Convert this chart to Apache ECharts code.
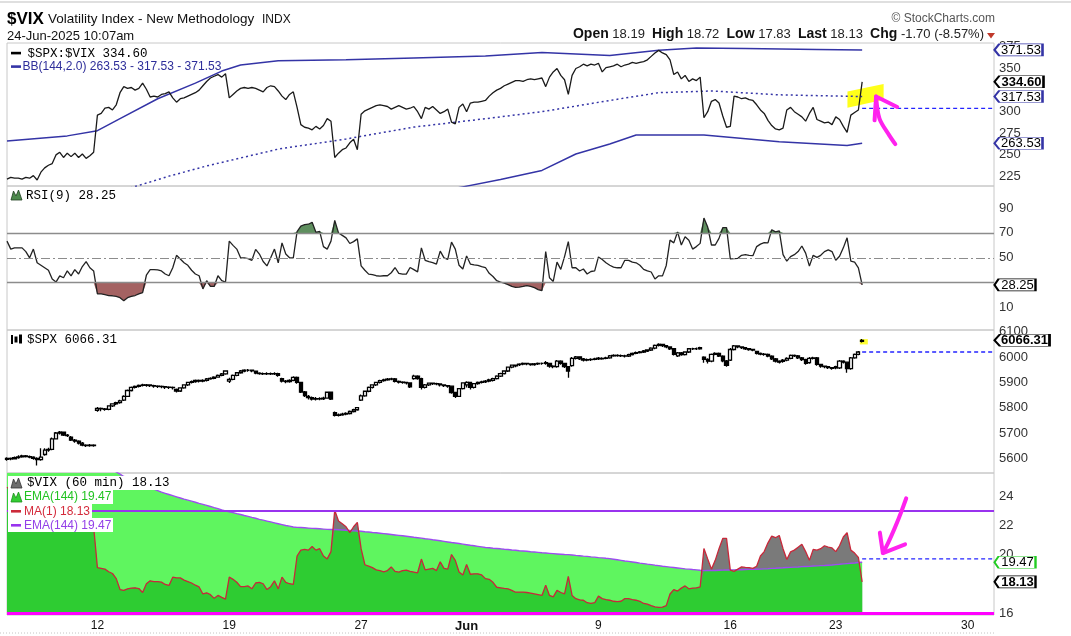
<!DOCTYPE html>
<html>
<head>
<meta charset="utf-8">
<script src="https://cdn.jsdelivr.net/npm/echarts@6.0.0/dist/echarts.min.js"></script>
<style>
html,body{margin:0;padding:0;background:#fff;}
#chart{width:1071px;height:636px;}
</style>
</head>
<body>
<div id="chart"></div>
<script>
// ===================== DATA =====================
const tradingDays = ['2025-05-06','2025-05-07','2025-05-08','2025-05-09','2025-05-12','2025-05-13','2025-05-14','2025-05-15','2025-05-16','2025-05-19','2025-05-20','2025-05-21','2025-05-22','2025-05-23','2025-05-27','2025-05-28','2025-05-29','2025-05-30','2025-06-02','2025-06-03','2025-06-04','2025-06-05','2025-06-06','2025-06-09','2025-06-10','2025-06-11','2025-06-12','2025-06-13','2025-06-16','2025-06-17','2025-06-18','2025-06-20','2025-06-23','2025-06-24','2025-06-25','2025-06-26','2025-06-27','2025-06-30','2025-07-01'];
const sessionHours = ['09:30','10:30','11:30','12:30','13:30','14:30','15:30'];
const firstDayHours = ['13:30','14:30','15:30'];
const lastDayHours = ['09:30'];
const weekLabels = {'2025-05-12':'12','2025-05-19':'19','2025-05-27':'27','2025-06-02':'Jun','2025-06-09':'9','2025-06-16':'16','2025-06-23':'23','2025-06-30':'30'};

// $SPX:$VIX ratio, hourly
const ratio = [
222,224,223,
223,222,224,223,226,221,230,
235,238,240,250,253,247,252,
248,252,247,251,246,249,253,
296,298,304,305,302,308,322,
329,327,328,325,327,333,326,
317,318,317,320,321,323,316,
311,315,316,318,320,322,325,
330,335,339,341,343,340,344,
316,320,324,327,328,327,328,
327,325,323,328,330,329,324,
318,314,320,323,305,285,282,
281,279,283,280,284,292,289,
247,252,256,258,264,268,256,
297,301,303,305,307,308,307,
306,303,305,307,305,303,304,
306,300,292,305,303,306,302,
298,300,303,288,286,305,309,
300,310,311,311,312,313,318,
322,325,327,330,332,334,336,
336,335,337,338,337,338,339,
329,340,346,350,342,337,320,
342,350,352,355,353,355,354,
356,346,351,352,353,355,352,
354,355,357,356,357,358,360,
364,368,371,368,366,360,343,
346,338,342,335,338,336,340,
293,300,312,314,310,295,282,
283,318,317,315,316,314,313,
308,302,298,290,284,280,279,
281,302,305,300,297,294,289,
298,305,291,289,287,288,285,
294,291,283,276,296,299,302,
334.6];

// Bollinger Bands (144,2.0) read at points [barIndex, value]
const bbUpper = [[0,266],[16,272],[24,278],[30,292],[40,315],[50,333],[57,347],[62,354],[72,359],[90,360],[108,362],[127,364.5],[142,368.5],[160,365],[173,371],[183,373.8],[196,373],[215,372],[227,371.53]];
const bbMiddle = [[20,195],[33,212],[43,225.4],[53,237.2],[72,256.7],[90,268.4],[108,282.2],[127,291.9],[142,300],[160,313],[173,322],[187,324],[205,319.5],[227,317.53]];
const bbLower = [[90,176],[108,202],[121,213],[131,221.5],[142,232],[151,251],[160,262.6],[167,273],[185,273],[205,265.3],[223,261],[227,263.53]];

// RSI(9) of $VIX
const rsi = [
63.4,57,58,
58,58,55,50,57,46,44,
42,40,33,30.5,35.5,34,39.5,
35.5,40.5,37,43,47,42,39.5,
21,21,20.5,19.7,19.5,19.1,18,
15.5,18,19,19.7,21,22,36,
40.5,40.5,40.3,39.5,37,35.6,42,
52,49,46,44,40,37,35.6,
25,31.6,27,27,35.6,31.6,30.5,
63.4,60,57,50.1,50,49.3,48,
56.8,53,47,43.5,50,57,46,
62,53,50,50,71,75.5,76.6,
77,78.5,70.5,71.3,59,57,63.4,
80,70,68,66,61.5,63,65.2,
43.5,40,36.9,36.5,35.6,35.3,35.6,
35.6,38,42.2,37.5,36.9,36.9,42.2,
40.5,38.7,58,48,47,46.2,45,
55.4,50,48.8,62.6,57,44,41,
51.5,45,44.3,44,43,42.2,37.5,
35,31.6,30.5,29.7,28.5,27,26.3,
26.5,27,27.6,27,26,24.5,23.6,
55,34,31,46.5,40.7,51,63,
42,42,39.4,41,37,39,39.5,
50.7,48.6,46,44,42.5,42,42,
48,48,46.5,46,44,40.7,39.5,
38.6,33,35.5,35.5,43.9,64.2,62,
70.8,60.3,66.9,64.2,57,59,61.6,
82,74.7,60.3,60.3,65.6,74.2,74.2,
49.1,49.3,49.6,52,52.5,52,51.7,
59,61,62.2,62,72.6,70.8,71.6,
52.5,47.3,51,52.5,55,59.5,53.8,
43.3,52,50.4,52,55,56.4,55,
48,51.2,58,66.1,47.3,46.5,42,
28.25];
const rsiLevels = {upper: 70, middle: 50, lower: 30};

// $SPX hourly candles [open, close, low, high]
const spxOHLC = [
[5596,5600,5590,5604],[5600,5598,5592,5603],[5598,5603,5595,5607],
[5603,5606,5598,5612],[5606,5610,5602,5614],[5610,5607,5603,5613],[5607,5605,5600,5611],[5605,5600,5594,5608],[5600,5595,5572,5604],[5595,5605,5590,5640],
[5615,5632,5610,5640],[5632,5635,5626,5642],[5635,5677,5632,5682],[5677,5700,5674,5704],[5700,5703,5694,5708],[5703,5692,5688,5706],[5692,5690,5684,5696],
[5684,5672,5668,5688],[5672,5668,5662,5676],[5668,5660,5655,5671],[5660,5652,5648,5664],[5652,5650,5645,5656],[5650,5652,5646,5657],[5652,5650,5646,5656],
[5790,5797,5784,5803],[5797,5795,5786,5801],[5795,5793,5788,5799],[5793,5807,5790,5810],[5807,5815,5803,5818],[5815,5820,5811,5824],[5820,5827,5816,5831],
[5830,5845,5826,5849],[5845,5868,5842,5872],[5868,5880,5864,5884],[5880,5884,5876,5888],[5884,5888,5880,5892],[5888,5890,5884,5895],[5890,5888,5883,5894],
[5890,5887,5882,5893],[5887,5885,5879,5891],[5885,5884,5878,5889],[5884,5883,5877,5888],[5883,5881,5874,5886],[5881,5880,5874,5885],[5880,5879,5872,5884],
[5872,5866,5860,5876],[5866,5878,5862,5881],[5878,5890,5875,5893],[5890,5900,5886,5903],[5900,5903,5896,5907],[5903,5908,5899,5911],[5908,5905,5900,5911],
[5905,5908,5901,5912],[5908,5914,5904,5917],[5914,5916,5910,5920],[5916,5921,5912,5924],[5921,5928,5918,5931],[5928,5934,5924,5937],[5934,5945,5930,5948],
[5905,5912,5898,5918],[5912,5928,5908,5931],[5928,5938,5924,5941],[5938,5945,5934,5949],[5945,5948,5940,5952],[5948,5948,5942,5953],[5948,5946,5940,5951],
[5944,5937,5932,5946],[5937,5935,5930,5940],[5935,5934,5929,5939],[5934,5935,5929,5940],[5935,5934,5929,5939],[5934,5935,5929,5940],[5935,5928,5922,5938],
[5915,5905,5900,5918],[5905,5903,5897,5909],[5903,5908,5899,5912],[5908,5920,5905,5924],[5920,5900,5895,5923],[5900,5862,5858,5903],[5862,5848,5842,5866],
[5845,5840,5832,5850],[5840,5834,5828,5844],[5834,5836,5828,5842],[5836,5835,5829,5841],[5835,5838,5830,5843],[5838,5861,5835,5864],[5861,5834,5830,5863],
[5780,5770,5765,5785],[5770,5772,5765,5777],[5772,5775,5768,5780],[5775,5777,5770,5782],[5777,5785,5773,5789],[5785,5792,5781,5796],[5792,5800,5788,5803],
[5830,5847,5826,5852],[5847,5865,5843,5868],[5865,5880,5861,5884],[5880,5890,5876,5893],[5890,5900,5886,5903],[5900,5907,5896,5910],[5907,5910,5903,5914],
[5910,5913,5906,5917],[5913,5914,5908,5918],[5914,5904,5900,5917],[5904,5901,5896,5907],[5901,5900,5895,5905],[5900,5898,5892,5903],[5898,5882,5878,5900],
[5915,5925,5910,5930],[5925,5915,5910,5928],[5915,5880,5872,5918],[5880,5890,5876,5894],[5890,5897,5886,5900],[5897,5895,5890,5900],[5895,5894,5889,5899],
[5894,5890,5884,5897],[5890,5887,5882,5893],[5887,5885,5879,5890],[5885,5860,5855,5888],[5860,5845,5838,5863],[5845,5875,5842,5878],[5875,5898,5872,5901],
[5890,5900,5880,5905],[5900,5880,5872,5903],[5880,5895,5876,5898],[5895,5900,5891,5904],[5900,5902,5896,5906],[5902,5905,5898,5909],[5905,5910,5901,5914],
[5908,5915,5904,5918],[5915,5925,5911,5928],[5925,5935,5921,5938],[5935,5945,5931,5948],[5945,5960,5941,5963],[5960,5968,5956,5971],[5968,5965,5960,5971],
[5970,5972,5965,5976],[5972,5975,5968,5979],[5975,5973,5968,5978],[5973,5970,5966,5976],[5970,5973,5966,5977],[5973,5975,5969,5979],[5975,5975,5970,5979],
[5978,5975,5970,5985],[5975,5964,5958,5978],[5964,5962,5956,5968],[5962,5984,5958,5988],[5984,5975,5970,5987],[5975,5962,5957,5978],[5962,5945,5918,5965],
[5966,5995,5962,6000],[5995,6001,5990,6004],[6001,5993,5988,6003],[5993,5988,5983,5996],[5988,5990,5984,5994],[5990,5991,5985,5995],[5991,5993,5987,5997],
[5996,5993,5988,6000],[5993,5995,5989,5999],[5995,5997,5991,6001],[5997,6005,5993,6008],[6005,6007,6001,6011],[6007,6006,6001,6011],[6006,6005,6000,6010],
[6005,6004,5998,6009],[6004,6010,6000,6013],[6010,6015,6006,6018],[6015,6018,6011,6022],[6018,6020,6014,6024],[6020,6024,6016,6028],[6024,6028,6020,6031],
[6028,6035,6024,6039],[6035,6046,6031,6050],[6046,6050,6042,6055],[6050,6045,6040,6053],[6045,6040,6035,6048],[6040,6033,6028,6043],[6033,6011,6006,6036],
[6005,6017,6000,6020],[6017,6010,6005,6020],[6010,6020,6006,6023],[6020,6033,6016,6036],[6033,6033,6028,6037],[6033,6033,6028,6038],[6033,6037,6029,6041],
[6000,5991,5978,6003],[5991,5984,5975,5995],[5984,6011,5980,6014],[6011,6015,6007,6019],[6015,6004,6000,6018],[6004,5985,5980,6007],[5985,5967,5962,5988],
[5988,6030,5985,6036],[6030,6044,6026,6048],[6044,6040,6035,6047],[6040,6037,6032,6043],[6037,6033,6028,6040],[6033,6030,6025,6036],[6030,6028,6023,6033],
[6022,6015,6010,6025],[6015,6012,6007,6018],[6012,6011,6005,6016],[6011,6004,5999,6014],[6004,5993,5988,6007],[5993,5984,5979,5996],[5984,5980,5975,5987],
[5983,5988,5978,5992],[5988,5995,5984,5999],[5995,6007,5991,6010],[6007,6005,6000,6010],[6005,5997,5992,6008],[5997,5990,5985,6000],[5990,5975,5970,5993],
[5978,5995,5974,6000],[5995,5997,5990,6001],[5997,5971,5966,6000],[5971,5964,5958,5974],[5964,5962,5956,5967],[5962,5958,5953,5965],[5958,5955,5950,5961],
[5962,5957,5952,5966],[5957,5984,5953,5988],[5984,5980,5975,5987],[5980,5954,5938,5983],[5954,5997,5950,6000],[5997,6011,5993,6014],[6011,6020,6007,6024],
[6062,6066,6058,6071]];

// $VIX hourly close (MA(1))
const vix = [
24.6,24.4,24.8,
24.5,24.2,24.0,24.3,24.0,24.6,23.9,
23.3,23.1,22.6,22.3,22.4,22.6,22.3,
22.7,22.5,22.6,22.3,22.1,22.3,21.9,
19.1,19.05,19.0,18.82,18.7,18.35,17.6,
17.55,17.65,17.7,17.72,17.67,17.4,18.0,
18.2,18.15,18.15,18.11,17.95,17.88,18.45,
18.4,18.4,18.25,18.15,18.05,17.9,17.78,
17.3,17.38,17.25,17.0,17.2,17.07,16.95,
18.45,18.3,18.1,17.8,17.8,17.85,17.65,
18.05,18.1,18.0,17.6,17.8,18.2,17.65,
18.45,18.1,18.0,17.95,19.9,20.3,20.35,
20.3,20.55,20.3,20.4,19.9,19.7,20.2,
23.04,22.3,22.1,21.9,21.5,21.9,22.2,
20.4,19.3,19.2,19.1,18.95,18.9,18.82,
18.9,19.15,18.85,18.8,18.9,18.93,18.85,
18.8,18.75,19.69,18.95,19.0,19.05,18.9,
19.5,19.05,19.0,20.0,19.6,18.8,18.6,
19.32,18.65,18.68,18.68,18.6,18.35,18.3,
18.1,17.76,17.72,17.68,17.65,17.55,17.42,
17.42,17.42,17.4,17.35,17.3,17.25,17.2,
17.9,17.2,17.1,17.55,17.4,17.3,18.5,
17.2,16.98,16.9,16.87,16.7,16.66,16.7,
17.15,16.98,16.92,16.87,16.8,16.77,16.8,
16.98,16.98,16.92,16.87,16.8,16.65,16.6,
16.5,16.41,16.38,16.4,16.5,17.3,17.6,
17.5,17.7,17.85,17.65,17.7,17.72,17.78,
20.41,19.7,19.0,19.6,20.4,21.1,21.1,
18.93,18.85,19.0,19.15,19.12,19.1,19.05,
19.2,19.9,20.2,20.8,21.26,21.15,21.3,
20.4,19.66,20.18,20.3,20.5,20.7,20.2,
19.6,20.35,20.3,20.4,20.6,20.5,20.45,
20.2,20.6,21.2,21.5,20.3,20.1,19.8,
18.13];

// EMA(144) of $VIX
const ema144 = [
27.2,27.16,27.13,
27.1,27.06,27.03,27.0,26.96,26.93,26.9,
26.86,26.83,26.79,26.76,26.72,26.69,26.65,
26.61,26.58,26.54,26.5,26.46,26.43,26.39,
26.3,26.2,26.1,25.95,25.8,25.65,25.5,
25.34,25.23,25.12,25.01,24.9,24.79,24.68,
24.58,24.48,24.38,24.27,24.19,24.11,24.03,
23.95,23.87,23.79,23.72,23.65,23.58,23.5,
23.43,23.36,23.29,23.21,23.14,23.06,22.99,
22.93,22.87,22.8,22.74,22.67,22.61,22.54,
22.48,22.41,22.35,22.29,22.23,22.17,22.11,
22.05,21.99,21.94,21.88,21.86,21.85,21.83,
21.81,21.79,21.78,21.76,21.74,21.72,21.71,
21.71,21.7,21.68,21.66,21.64,21.62,21.61,
21.59,21.56,21.54,21.51,21.49,21.46,21.43,
21.4,21.37,21.34,21.31,21.28,21.25,21.22,
21.18,21.15,21.12,21.08,21.05,21.01,20.98,
20.94,20.9,20.86,20.82,20.79,20.75,20.71,
20.67,20.63,20.6,20.56,20.52,20.48,20.46,
20.43,20.41,20.39,20.36,20.34,20.31,20.29,
20.26,20.24,20.22,20.19,20.17,20.15,20.12,
20.1,20.08,20.06,20.04,20.02,20.0,19.99,
19.97,19.94,19.92,19.89,19.87,19.84,19.82,
19.79,19.77,19.74,19.72,19.68,19.64,19.6,
19.56,19.53,19.49,19.45,19.41,19.38,19.34,
19.31,19.27,19.24,19.2,19.17,19.14,19.11,
19.08,19.05,19.02,19.0,18.97,18.95,18.92,
18.9,18.91,18.91,18.91,18.92,18.93,18.94,
18.94,18.95,18.96,18.96,18.97,18.98,18.98,
18.99,19.0,19.02,19.03,19.05,19.06,19.08,
19.09,19.11,19.12,19.14,19.15,19.17,19.18,
19.19,19.21,19.22,19.24,19.25,19.27,19.28,
19.31,19.33,19.36,19.38,19.4,19.42,19.45,
19.47];

// user-drawn horizontal levels on the VIX panel, previous closes
const vixLevels = {purple: 23, magenta: 16};
const prevClose = {ratio: 303.8, spx: 6020, vix: 19.7};

// annotations (bar index, value)
const ratioHighlight = [[223.1,323.5],[232.7,332.1],[232.7,313.7],[223.1,304.6]];
const spxHighlight = [[226.4,6071],[228.5,6071],[228.5,6050],[226.4,6050]];
const arrow1Shaft = [[230.7,317.5],[231.6,292],[234.2,272.6],[235.8,262.4]];
const arrow1Head = [[236.3,305.5],[230.7,317.5],[230.3,290]];
const arrow2Shaft = [[238.7,23.85],[237.5,23.0],[235.7,21.84],[233.9,20.8],[232.5,20.1]];
const arrow2Head = [[231.7,21.5],[232.5,20.1],[238.4,20.7]];

// ===================== BUILD =====================
const FONT = '"Liberation Sans", Arial, sans-serif';
const MONO = '"Liberation Mono", "DejaVu Sans Mono", monospace';

const categories = [];
tradingDays.forEach((d, k) => {
  const hrs = k === 0 ? firstDayHours : (k === tradingDays.length - 1 ? lastDayHours : sessionHours);
  hrs.forEach(h => categories.push(d + ' ' + h));
});
const lastIdx = ratio.length - 1;
const endIdx = categories.length - 1;

const rsiHiBase = rsi.map(() => rsiLevels.upper);
const rsiHiFill = rsi.map(v => Math.max(v - rsiLevels.upper, 0));
const rsiLoBase = rsi.map(v => Math.min(v, rsiLevels.lower));
const rsiLoFill = rsi.map(v => rsiLevels.lower - Math.min(v, rsiLevels.lower));
const vixFloor = vix.map((v, i) => Math.min(v, ema144[i]));

const GL = 7, GR = 77;
const grid = [
  {top: 43, height: 143},
  {top: 186, height: 144},
  {top: 330, height: 143},
  {top: 473, height: 142}
].map(g => Object.assign({left: GL, right: GR, show: true, borderColor: '#c8c8c8', borderWidth: 1, containLabel: false}, g));

const xAxis = [0, 1, 2, 3].map(i => ({
  type: 'category', gridIndex: i, data: categories, boundaryGap: false,
  axisLine: {show: false}, axisTick: {show: false}, splitLine: {show: false},
  axisLabel: i === 3 ? {
    show: true,
    interval: (index, value) => value.slice(11) === '09:30' && weekLabels.hasOwnProperty(value.slice(0, 10)),
    formatter: value => { const t = weekLabels[value.slice(0, 10)] || ''; return t === 'Jun' ? '{b|Jun}' : t; },
    fontSize: 12, color: '#111', fontFamily: FONT, margin: 5,
    rich: {b: {fontWeight: 'bold', fontSize: 13, fontFamily: FONT, color: '#111'}}
  } : {show: false}
}));
[0, 2, 3].forEach(gi => xAxis.push({type: 'value', gridIndex: gi, min: 0, max: endIdx, show: false}));
// xAxis 4 -> grid0, 5 -> grid2, 6 -> grid3

function mkY(gi, min, max, ticks) {
  return {
    type: 'value', gridIndex: gi, position: 'right', min, max,
    axisLine: {show: false}, axisTick: {show: false}, splitLine: {show: false},
    axisLabel: {customValues: ticks, formatter: v => String(v), fontSize: 13, color: '#333', fontFamily: FONT, margin: 5}
  };
}
const yAxis = [
  mkY(0, 214, 379.5, [225, 250, 275, 300, 350, 375]),
  mkY(1, -8, 107.7, [10, 50, 70, 90]),
  mkY(2, 5542, 6107, [5600, 5700, 5800, 5900, 6000, 6100]),
  mkY(3, 15.86, 25.58, [16, 20, 22, 24])
];

function valueBox(val, text, border, bold, w) {
  return {
    coord: [endIdx, val],
    symbol: 'path://M0,6 L6,0 L60,0 L60,12 L6,12 Z',
    symbolSize: [w, 12], symbolKeepAspect: false,
    symbolOffset: [w / 2 + 0.5, 0],
    itemStyle: {color: '#fff', borderColor: border, borderWidth: 1.3},
    label: {show: true, position: 'inside', formatter: text, color: '#000', fontFamily: FONT,
      fontSize: 13, fontWeight: bold ? 'bold' : 'normal', offset: [2.5, 0.5]}
  };
}
const BB_COLOR = '#3434a6';
const PREV_COLOR = '#2424ff';
const noLine = {opacity: 0, width: 0};

const series = [
  // ---------- panel 1 ----------
  {type: 'custom', xAxisIndex: 4, yAxisIndex: 0, silent: true, z: 1, data: [[0, 0]],
    renderItem: (params, api) => ({type: 'polygon', shape: {points: ratioHighlight.map(p => api.coord(p))}, style: {fill: '#ffff1a'}})},
  {type: 'line', xAxisIndex: 0, yAxisIndex: 0, data: bbUpper, symbol: 'none', silent: true, z: 2,
    lineStyle: {color: BB_COLOR, width: 1.5}},
  {type: 'line', xAxisIndex: 0, yAxisIndex: 0, data: bbMiddle, symbol: 'none', silent: true, z: 2,
    lineStyle: {color: BB_COLOR, width: 1.5, type: [2, 3]}},
  {type: 'line', xAxisIndex: 0, yAxisIndex: 0, data: bbLower, symbol: 'none', silent: true, z: 2,
    lineStyle: {color: BB_COLOR, width: 1.5}},
  {type: 'line', xAxisIndex: 0, yAxisIndex: 0, data: [[lastIdx, prevClose.ratio], [endIdx, prevClose.ratio]], symbol: 'none', silent: true, z: 2,
    lineStyle: {color: PREV_COLOR, width: 1.3, type: [4, 3]}},
  {type: 'line', xAxisIndex: 0, yAxisIndex: 0, data: ratio, symbol: 'none', silent: true, z: 3,
    lineStyle: {color: '#1a1a1a', width: 1.3},
    markPoint: {silent: true, data: [
      valueBox(371.53, '371.53', BB_COLOR, false, 48),
      valueBox(334.60, '334.60', '#000', true, 49),
      valueBox(317.53, '317.53', BB_COLOR, false, 48),
      valueBox(263.53, '263.53', BB_COLOR, false, 48)
    ]}},
  {type: 'line', xAxisIndex: 4, yAxisIndex: 0, data: arrow1Shaft, symbol: 'none', smooth: 0.3, silent: true, z: 6,
    lineStyle: {color: '#ff22ee', width: 4, cap: 'round', join: 'round'}},
  {type: 'line', xAxisIndex: 4, yAxisIndex: 0, data: arrow1Head, symbol: 'none', silent: true, z: 6,
    lineStyle: {color: '#ff22ee', width: 4, cap: 'round', join: 'round'}},

  // ---------- panel 2 (RSI) ----------
  {type: 'line', xAxisIndex: 1, yAxisIndex: 1, data: rsiHiBase, stack: 'hi', symbol: 'none', silent: true, lineStyle: noLine, z: 1},
  {type: 'line', xAxisIndex: 1, yAxisIndex: 1, data: rsiHiFill, stack: 'hi', symbol: 'none', silent: true, lineStyle: noLine, z: 1,
    areaStyle: {color: '#5f8f5f', opacity: 1}},
  {type: 'line', xAxisIndex: 1, yAxisIndex: 1, data: rsiLoBase, stack: 'lo', symbol: 'none', silent: true, lineStyle: noLine, z: 1},
  {type: 'line', xAxisIndex: 1, yAxisIndex: 1, data: rsiLoFill, stack: 'lo', symbol: 'none', silent: true, lineStyle: noLine, z: 1,
    areaStyle: {color: '#a46262', opacity: 1}},
  {type: 'line', xAxisIndex: 1, yAxisIndex: 1, data: rsi, symbol: 'none', silent: true, z: 3,
    lineStyle: {color: '#222', width: 1.3},
    markLine: {silent: true, symbol: ['none', 'none'], label: {show: false},
      lineStyle: {color: '#8c8c8c', width: 1.3, type: 'solid'},
      data: [{yAxis: rsiLevels.upper}, {yAxis: rsiLevels.middle, lineStyle: {type: [9, 3, 2, 3], color: '#8c8c8c', width: 1.2}}, {yAxis: rsiLevels.lower}]},
    markPoint: {silent: true, data: [valueBox(28.25, '28.25', '#000', false, 41)]}},

  // ---------- panel 3 (SPX) ----------
  {type: 'custom', xAxisIndex: 5, yAxisIndex: 2, silent: true, z: 1, data: [[0, 0]],
    renderItem: (params, api) => ({type: 'polygon', shape: {points: spxHighlight.map(p => api.coord(p))}, style: {fill: '#ffff33'}})},
  {type: 'line', xAxisIndex: 2, yAxisIndex: 2, data: [[lastIdx, prevClose.spx], [endIdx, prevClose.spx]], symbol: 'none', silent: true, z: 2,
    lineStyle: {color: PREV_COLOR, width: 1.3, type: [4, 3]}},
  {type: 'candlestick', xAxisIndex: 2, yAxisIndex: 2, data: spxOHLC, silent: true, z: 3, barWidth: 3.6,
    itemStyle: {color: '#fff', color0: '#000', borderColor: '#000', borderColor0: '#000', borderWidth: 1.3},
    markPoint: {silent: true, data: [valueBox(6066.31, '6066.31', '#000', true, 55)]}},

  // ---------- panel 4 (VIX) ----------
  {type: 'line', xAxisIndex: 3, yAxisIndex: 3, data: ema144, symbol: 'none', silent: true, lineStyle: noLine, z: 1,
    areaStyle: {color: '#5ff55f', opacity: 1, origin: 'start'}},
  {type: 'line', xAxisIndex: 3, yAxisIndex: 3, data: vix, symbol: 'none', silent: true, lineStyle: noLine, z: 1,
    areaStyle: {color: '#7a7a7a', opacity: 1, origin: 'start'}},
  {type: 'line', xAxisIndex: 3, yAxisIndex: 3, data: vixFloor, symbol: 'none', silent: true, lineStyle: noLine, z: 1,
    areaStyle: {color: '#2ecc32', opacity: 1, origin: 'start'}},
  {type: 'line', xAxisIndex: 3, yAxisIndex: 3, data: ema144, symbol: 'none', silent: true, z: 2,
    lineStyle: {color: '#9d4cf0', width: 1.4}},
  {type: 'line', xAxisIndex: 3, yAxisIndex: 3, data: [[lastIdx, prevClose.vix], [endIdx, prevClose.vix]], symbol: 'none', silent: true, z: 2,
    lineStyle: {color: PREV_COLOR, width: 1.3, type: [4, 3]}},
  {type: 'line', xAxisIndex: 3, yAxisIndex: 3, data: vix, symbol: 'none', silent: true, z: 3,
    lineStyle: {color: '#c8283a', width: 1.3},
    markLine: {silent: true, symbol: ['none', 'none'], label: {show: false},
      data: [{yAxis: vixLevels.purple, lineStyle: {color: '#9933ee', width: 2.2, type: 'solid'}},
             {yAxis: vixLevels.magenta, lineStyle: {color: '#ff00ff', width: 3, type: 'solid'}}]},
    markPoint: {silent: true, data: [
      valueBox(19.47, '19.47', '#22cc22', false, 41),
      valueBox(18.13, '18.13', '#000', true, 41)
    ]}},
  {type: 'line', xAxisIndex: 6, yAxisIndex: 3, data: arrow2Shaft, symbol: 'none', smooth: 0.3, silent: true, z: 6,
    lineStyle: {color: '#ff22ee', width: 4, cap: 'round', join: 'round'}},
  {type: 'line', xAxisIndex: 6, yAxisIndex: 3, data: arrow2Head, symbol: 'none', silent: true, z: 6,
    lineStyle: {color: '#ff22ee', width: 4, cap: 'round', join: 'round'}}
];

// ---------- texts ----------
function txt(x, y, text, font, fill, align) {
  return {type: 'text', x, y, silent: true, z: 100,
    style: {text, font, fill, textAlign: align || 'left', align: align || 'left', textVerticalAlign: 'middle', verticalAlign: 'middle'}};
}
function box(x, y, w, h, fill) { return {type: 'rect', silent: true, z: 99, shape: {x, y, width: w, height: h}, style: {fill}}; }
function poly(points, fill, stroke) { return {type: 'polygon', silent: true, z: 100, shape: {points}, style: {fill, stroke: stroke || null, lineWidth: 0.8}}; }

const graphic = [
  {type: 'line', silent: true, shape: {x1: 0, y1: 2, x2: 1071, y2: 2}, style: {stroke: '#d4d4d4', lineWidth: 1.5}},
  {type: 'line', silent: true, shape: {x1: 0, y1: 633, x2: 996, y2: 633}, style: {stroke: '#c4c4c4', lineWidth: 1, lineDash: [1, 2]}},
  txt(7, 19, '$VIX', 'bold 17px ' + FONT, '#000'),
  txt(48, 19.5, 'Volatility Index - New Methodology', '13.5px ' + FONT, '#111'),
  txt(262, 19.5, 'INDX', '12px ' + FONT, '#111'),
  txt(7, 36, '24-Jun-2025 10:07am', '13px ' + FONT, '#111'),
  txt(995, 19, '\u00A9 StockCharts.com', '12px ' + FONT, '#555', 'right'),
  poly([[987, 33], [995, 33], [991, 38.5]], '#c0392b'),
  // panel 1 legend
  box(11, 51.8, 10, 2.6, '#000'),
  txt(27.5, 53.5, '$SPX:$VIX 334.60', '12.5px ' + MONO, '#000'),
  box(11, 65.3, 10, 2.6, BB_COLOR),
  txt(22.5, 66.8, 'BB(144,2.0) 263.53 - 317.53 - 371.53', '12px ' + FONT, '#2e2e9a'),
  // panel 2 legend
  poly([[11, 200], [13.5, 191], [16, 196], [18.5, 190], [22, 200]], '#4d8a4d', '#1f3f1f'),
  txt(26, 195.5, 'RSI(9) 28.25', '12.5px ' + MONO, '#000'),
  // panel 3 legend
  box(11, 335, 2, 9, '#000'), box(14.5, 336.5, 3, 6, '#000'), box(19, 334.5, 3, 9, '#000'),
  txt(27, 339.5, '$SPX 6066.31', '12.5px ' + MONO, '#000'),
  // panel 4 legend
  box(8, 476, 162, 14, '#fff'),
  box(8, 490, 105, 14, '#fff'),
  box(8, 504, 84, 14, '#fff'),
  box(8, 518, 105, 14, '#fff'),
  poly([[11, 488], [13.5, 479], [16, 484], [18.5, 478], [22, 488]], '#6e6e6e', '#333'),
  txt(27, 483, '$VIX (60 min) 18.13', '12.5px ' + MONO, '#000'),
  poly([[11, 502], [13.5, 493], [16, 498], [18.5, 492], [22, 502]], '#33cc33', '#1a8f1a'),
  txt(24, 497, 'EMA(144) 19.47', '12px ' + FONT, '#22c322'),
  box(11, 510, 10, 2.6, '#cc2a3a'),
  txt(24, 511.3, 'MA(1) 18.13', '12px ' + FONT, '#d42a3a'),
  box(11, 524, 10, 2.6, '#9933ee'),
  txt(24, 525.3, 'EMA(144) 19.47', '12px ' + FONT, '#9340e8')
];

const title = [{
  text: '{b|Open} 18.19  {b|High} 18.72  {b|Low} 17.83  {b|Last} 18.13  {b|Chg} -1.70 (-8.57%)',
  right: 1071 - 984, top: 27, padding: 0,
  textStyle: {fontSize: 13, fontWeight: 'normal', fontFamily: FONT, color: '#222',
    rich: {b: {fontSize: 14, fontWeight: 'bold', fontFamily: FONT, color: '#111'}}}
}];

const chart = echarts.init(document.getElementById('chart'), null, {renderer: 'canvas'});
chart.setOption({
  animation: false,
  backgroundColor: '#fff',
  title, grid, xAxis, yAxis, series, graphic,
  tooltip: {show: false}
});
</script>
</body>
</html>
